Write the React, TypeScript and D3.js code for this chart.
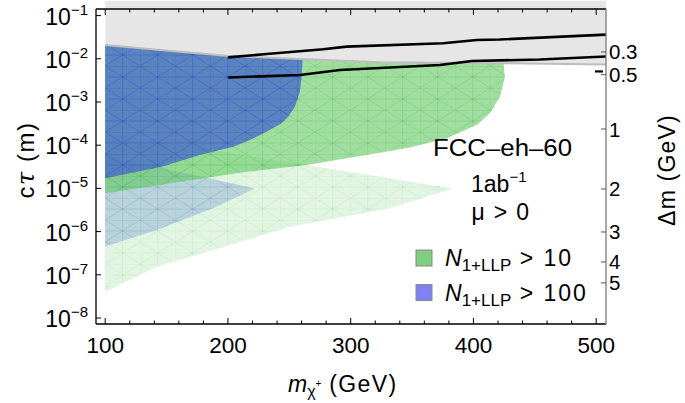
import React from "react";
import * as d3 from "d3";

type P = { m: number; ct: number };

// ---- data ----
const xMajorTicks = [100, 200, 300, 400, 500];
const xMinorTicks = [120, 140, 160, 180, 220, 240, 260, 280, 320, 340, 360, 380, 420, 440, 460, 480];
const yTickExponents = [-8, -7, -6, -5, -4, -3, -2, -1];
const dmTickLabels = ["0.3", "0.5", "1", "2", "3", "4", "5"];
const dmTickCt = [1.44e-2, 4.3e-3, 2.37e-4, 9.7e-6, 9.8e-7, 1.98e-7, 6.5e-8];

const excludedEdge: P[] = [
  { m: 100, ct: 2.1e-2 },
  { m: 145, ct: 1.6e-2 },
  { m: 200, ct: 1.16e-2 },
  { m: 259, ct: 9.9e-3 },
  { m: 324, ct: 8.3e-3 },
  { m: 421, ct: 7.9e-3 },
  { m: 508, ct: 7.4e-3 },
];
const excludedTopCt = 0.22;

const upperLine: P[] = [
  { m: 200, ct: 1.08e-2 },
  { m: 231.5, ct: 1.29e-2 },
  { m: 277.6, ct: 1.66e-2 },
  { m: 296.7, ct: 1.91e-2 },
  { m: 375.4, ct: 2.29e-2 },
  { m: 402.6, ct: 2.72e-2 },
  { m: 421.5, ct: 2.8e-2 },
  { m: 508, ct: 3.63e-2 },
];
const lowerLine: P[] = [
  { m: 200, ct: 3.69e-3 },
  { m: 258.6, ct: 4.22e-3 },
  { m: 291.2, ct: 5.51e-3 },
  { m: 372.7, ct: 7.18e-3 },
  { m: 398.7, ct: 8.89e-3 },
  { m: 454, ct: 9.64e-3 },
  { m: 508, ct: 1.13e-2 },
];
const shortDash: P[] = [
  { m: 499, ct: 5.1e-3 },
  { m: 505.5, ct: 5.1e-3 },
];

const blueRegion: P[] = [
  { m: 100, ct: 2.1e-2 },
  { m: 145, ct: 1.6e-2 },
  { m: 200, ct: 1.16e-2 },
  { m: 261, ct: 9.9e-3 },
  { m: 260.8, ct: 9.4e-3 },
  { m: 260, ct: 3.85e-3 },
  { m: 258.6, ct: 1.73e-3 },
  { m: 254.5, ct: 7.8e-4 },
  { m: 249.1, ct: 4.57e-4 },
  { m: 243.7, ct: 3.21e-4 },
  { m: 231.5, ct: 2.05e-4 },
  { m: 217.9, ct: 1.32e-4 },
  { m: 204.3, ct: 9.2e-5 },
  { m: 193.4, ct: 7.7e-5 },
  { m: 177.1, ct: 5.9e-5 },
  { m: 145.9, ct: 3.18e-5 },
  { m: 100, ct: 1.71e-5 },
];
const greenRegion: P[] = [
  { m: 100, ct: 2.1e-2 },
  { m: 145, ct: 1.6e-2 },
  { m: 200, ct: 1.16e-2 },
  { m: 259, ct: 9.9e-3 },
  { m: 324, ct: 8.3e-3 },
  { m: 424.5, ct: 8.0e-3 },
  { m: 425.6, ct: 3.85e-3 },
  { m: 421.6, ct: 1.33e-3 },
  { m: 413.4, ct: 5.47e-4 },
  { m: 402.6, ct: 2.94e-4 },
  { m: 378.1, ct: 1.45e-4 },
  { m: 350.9, ct: 9.2e-5 },
  { m: 326.2, ct: 6.9e-5 },
  { m: 264.1, ct: 3.48e-5 },
  { m: 209.7, ct: 2.31e-5 },
  { m: 100, ct: 7.7e-6 },
];
const lightBlueRegion: P[] = [
  { m: 100, ct: 5.83e-5 },
  { m: 141.9, ct: 3.18e-5 },
  { m: 222, ct: 1.0e-5 },
  { m: 188, ct: 3.46e-6 },
  { m: 141.9, ct: 1.09e-6 },
  { m: 100, ct: 4.52e-7 },
];
const lightGreenRegion: P[] = [
  { m: 100, ct: 1.91e-4 },
  { m: 264.1, ct: 3.48e-5 },
  { m: 383.3, ct: 1.0e-5 },
  { m: 331.9, ct: 3.46e-6 },
  { m: 250.5, ct: 1.3e-6 },
  { m: 201.6, ct: 4.9e-7 },
  { m: 141.9, ct: 1.54e-7 },
  { m: 100, ct: 4.06e-8 },
];

const legendItems = [
  { label: "10", fill: "#7fcf7f" },
  { label: "100", fill: "#8080f4" },
];

// ---- layout ----
const W = 685;
const H = 403;
const L = 96, R = 606, T = 9, B = 324;
const FONT = "'Liberation Sans', Arial, Helvetica, sans-serif";

export default function App() {
  const x = d3.scaleLinear().domain([92.5, 508]).range([L, R]);
  const y = d3.scaleLog().domain([Math.pow(10, -8.139), Math.pow(10, -0.847)]).range([B, T]);
  const line = d3.line<P>().x((d) => x(d.m)).y((d) => y(d.ct));
  const poly = (pts: P[]) => (line(pts) || "") + "Z";

  const excludedPoly: P[] = [
    { m: excludedEdge[0].m, ct: excludedTopCt },
    ...excludedEdge,
    { m: excludedEdge[excludedEdge.length - 1].m, ct: excludedTopCt },
  ];

  const meshPattern = (id: string, color: string, op: number) => (
    <pattern id={id} width={35} height={22} patternUnits="userSpaceOnUse" x={x(100)} y={0}>
      <g stroke={color} strokeWidth={0.6} strokeOpacity={op} fill="none">
        <path d="M0 0V22M0 0H35M0 11H35M0 0L35 22M0 22L35 0M17.5 0V22" />
      </g>
    </pattern>
  );

  return (
    <svg width={W} height={H} style={{ position: "absolute", left: 0, top: 0, background: "#fff" }} fontFamily={FONT}>
      <defs>
        {meshPattern("meshBlue", "#1f45d8", 0.45)}
        {meshPattern("meshGreen", "#2f9f2f", 0.3)}
        {meshPattern("meshLB", "#4a70d0", 0.25)}
        {meshPattern("meshLG", "#5fbf5f", 0.2)}
      </defs>

      {/* regions */}
      <path d={poly(lightGreenRegion)} fill="rgb(150,220,150)" fillOpacity={0.28} />
      <path d={poly(lightGreenRegion)} fill="url(#meshLG)" />
      <path d={poly(lightBlueRegion)} fill="rgb(125,160,210)" fillOpacity={0.4} />
      <path d={poly(lightBlueRegion)} fill="url(#meshLB)" />
      <path d={poly(greenRegion)} fill="rgb(95,200,95)" fillOpacity={0.6} />
      <path d={poly(greenRegion)} fill="url(#meshGreen)" />
      <path d={poly(blueRegion)} fill="rgb(70,105,200)" fillOpacity={0.78} />
      <path d={poly(blueRegion)} fill="url(#meshBlue)" />

      {/* excluded region */}
      <path d={poly(excludedPoly)} fill="#e6e6e6" />
      <path d={line(excludedEdge) || ""} fill="none" stroke="#bdbdbd" strokeWidth={2} />

      {/* black lines */}
      <path d={line(upperLine) || ""} fill="none" stroke="#000" strokeWidth={2.6} />
      <path d={line(lowerLine) || ""} fill="none" stroke="#000" strokeWidth={2.6} />
      <path d={line(shortDash) || ""} fill="none" stroke="#000" strokeWidth={2.2} />

      {/* frame */}
      <line x1={L} x2={R} y1={T} y2={T} stroke="#000" strokeWidth={1.3} />
      <line x1={L} x2={R} y1={B} y2={B} stroke="#000" strokeWidth={1.3} />
      <line x1={L} x2={L} y1={T} y2={B} stroke="#000" strokeWidth={1.3} />
      <line x1={R} x2={R} y1={T} y2={B} stroke="#7a7a7a" strokeWidth={1.3} />

      {/* x ticks */}
      {xMajorTicks.map((t) => (
        <g key={"xM" + t}>
          <line x1={x(t)} x2={x(t)} y1={B} y2={B - 6} stroke="#000" />
          <line x1={x(t)} x2={x(t)} y1={T} y2={T + 6} stroke="#000" />
          <text x={x(t)} y={353} textAnchor="middle" fontSize={22.5}>{t}</text>
        </g>
      ))}
      {xMinorTicks.map((t) => (
        <g key={"xm" + t}>
          <line x1={x(t)} x2={x(t)} y1={B} y2={B - 3.5} stroke="#000" />
          <line x1={x(t)} x2={x(t)} y1={T} y2={T + 3.5} stroke="#000" />
        </g>
      ))}

      {/* y ticks */}
      {yTickExponents.map((e) => {
        const yy = y(Math.pow(10, e));
        return (
          <g key={"y" + e}>
            <line x1={L} x2={L + 5} y1={yy} y2={yy} stroke="#000" />
            <text x={88} y={yy + 9} textAnchor="end" fontSize={23}>
              10<tspan dy={-10} fontSize={15}>{"\u2212" + -e}</tspan>
            </text>
          </g>
        );
      })}

      {/* right Δm ticks */}
      {dmTickLabels.map((lab, i) => {
        const yy = y(dmTickCt[i]);
        return (
          <g key={"dm" + lab}>
            <line x1={R - 5} x2={R} y1={yy} y2={yy} stroke="#555" />
            <text x={609} y={yy + 7.5} fontSize={20.5}>{lab}</text>
          </g>
        );
      })}

      {/* axis labels */}
      <text transform="translate(34,160) rotate(-90)" textAnchor="middle" fontSize={24} letterSpacing={1.5}>
        c<tspan fontFamily="'DejaVu Serif', serif" fontStyle="italic">τ</tspan> (m)
      </text>
      <text transform="translate(675,170) rotate(-90)" textAnchor="middle" fontSize={23} letterSpacing={1.2}>
        Δm (GeV)
      </text>
      <text x={288} y={392} fontSize={23}>
        <tspan fontStyle="italic">m</tspan>
        <tspan dy={5} fontSize={16}>χ</tspan>
        <tspan dy={-10} fontSize={10}>+</tspan>
        <tspan dy={5} fontSize={23} letterSpacing={1.4}>{" (GeV)"}</tspan>
      </text>

      {/* annotation */}
      <text x={502.5} y={156} textAnchor="middle" fontSize={23.5} textLength={139} lengthAdjust="spacingAndGlyphs">FCC–eh–60</text>
      <text x={471} y={192} fontSize={23}>
        1ab<tspan dy={-10} fontSize={15}>{"\u22121"}</tspan>
      </text>
      <text x={501} y={220} textAnchor="middle" fontSize={23} letterSpacing={1.3}>μ &gt; 0</text>

      {/* legend */}
      {legendItems.map((it, i) => {
        const top = 250 + i * 34.5;
        return (
          <g key={"lg" + i}>
            <rect x={416} y={top} width={16} height={16} fill={it.fill} stroke="#8a8a8a" strokeWidth={1} />
            <text x={445} y={top + 16} fontSize={23}>
              <tspan fontStyle="italic">N</tspan>
              <tspan dy={5} fontSize={17}>1+LLP</tspan>
              <tspan dy={-5} fontSize={23} letterSpacing={2}>{" > " + it.label}</tspan>
            </text>
          </g>
        );
      })}
    </svg>
  );
}
